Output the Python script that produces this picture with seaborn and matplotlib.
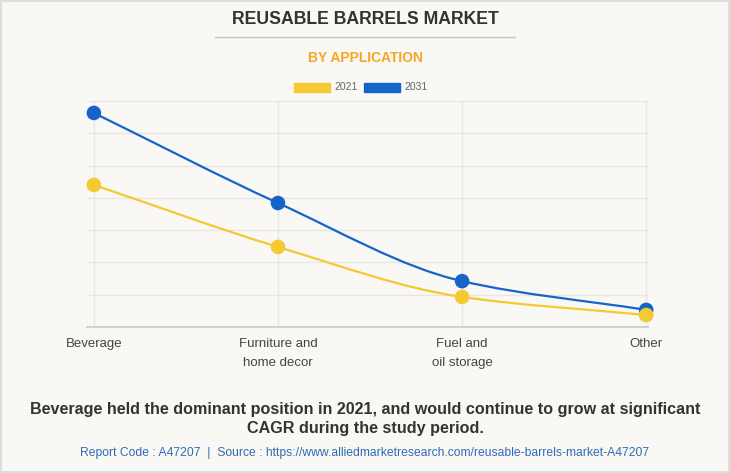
import numpy as np
import pandas as pd
import seaborn as sns
import matplotlib.pyplot as plt
from matplotlib.path import Path
from matplotlib.patches import PathPatch, Rectangle

# data (no y scale shown, units = gridline steps)
categories = ["Beverage", "Furniture and\nhome decor", "Fuel and\noil storage", "Other"]
values_2021 = [4.40, 2.48, 0.93, 0.37]
values_2031 = [6.63, 3.84, 1.42, 0.53]
years = ["2021", "2031"]
colors = {"2021": "#f5c932", "2031": "#1565c8"}

bg = "#f9f8f4"
sns.set_theme(style="white")
plt.rcParams["font.family"] = ["Liberation Sans", "DejaVu Sans"]

# 2031 rows first so the 2021 markers sit on top
df = pd.DataFrame({
    "pos": list(range(len(categories))) * 2,
    "value": values_2031 + values_2021,
    "year": [years[1]] * len(categories) + [years[0]] * len(categories),
})

fig = plt.figure(figsize=(7.3, 4.73), dpi=100, facecolor=bg)
fig.patch.set_edgecolor("#dddddd")
fig.patch.set_linewidth(1.5)
ax = fig.add_axes([0.119, 0.3087, 0.769, 0.4778], facecolor=bg)


def smooth_path(xs, ys):
    # monotone cubic (Fritsch-Carlson) drawn as bezier segments
    xs = np.asarray(xs, float)
    ys = np.asarray(ys, float)
    h = np.diff(xs)
    d = np.diff(ys) / h
    m = np.zeros_like(ys)
    m[0], m[-1] = d[0], d[-1]
    for i in range(1, len(ys) - 1):
        if d[i - 1] * d[i] > 0:
            m[i] = 2 / (1 / d[i - 1] + 1 / d[i])
    verts = [(xs[0], ys[0])]
    codes = [Path.MOVETO]
    for i in range(len(h)):
        verts += [(xs[i] + h[i] / 3, ys[i] + m[i] * h[i] / 3),
                  (xs[i + 1] - h[i] / 3, ys[i + 1] - m[i + 1] * h[i] / 3),
                  (xs[i + 1], ys[i + 1])]
        codes += [Path.CURVE4] * 3
    return Path(verts, codes)


for yr in ["2031", "2021"]:
    sub = df[df["year"] == yr]
    ax.add_patch(PathPatch(smooth_path(sub["pos"], sub["value"]), fill=False,
                           edgecolor=colors[yr], lw=1.6, zorder=3))

sns.scatterplot(data=df, x="pos", y="value", hue="year", palette=colors,
                s=110, edgecolor="none", legend=False, ax=ax, zorder=4,
                clip_on=False)

ax.set_xlim(-0.038, 3.011)
ax.set_ylim(0, 7)
ax.set_yticks(range(0, 8))
ax.set_yticklabels([])
ax.set_xticks(range(len(categories)))
ax.set_xticklabels(categories, fontsize=9.5, color="#444444", linespacing=1.75)
ax.set_xlabel("")
ax.set_ylabel("")
ax.tick_params(axis="x", length=0, pad=8)
ax.tick_params(axis="y", length=0)
ax.grid(True, color="#e6e6e6", lw=1)
for s in ["top", "left", "right"]:
    ax.spines[s].set_visible(False)
ax.spines["bottom"].set_color("#cccccc")

# header
fig.text(0.5, 1 - 20 / 473, "REUSABLE BARRELS MARKET", ha="center", va="center",
         fontsize=12.7, fontweight="bold", color="#333333")
fig.add_artist(plt.Line2D([215 / 730, 515 / 730], [1 - 37 / 473] * 2,
                          color="#c4c4c4", lw=1))
fig.text(0.5, 1 - 58 / 473, "BY APPLICATION", ha="center", va="center",
         fontsize=10, fontweight="bold", color="#f5a623")

# legend
for x0, yr in [(294, "2021"), (364, "2031")]:
    fig.add_artist(Rectangle((x0 / 730, 1 - 92 / 473), 36 / 730, 9 / 473,
                             transform=fig.transFigure, color=colors[yr]))
    fig.text((x0 + 40) / 730, 1 - 87 / 473, yr, ha="left", va="center",
             fontsize=7.5, color="#666666")

# footer
fig.text(0.5, 1 - 419 / 473,
         "Beverage held the dominant position in 2021, and would continue to grow at significant\nCAGR during the study period.",
         ha="center", va="center", fontsize=11.6, fontweight="bold", color="#333333",
         linespacing=1.3)
fig.text(0.5, 1 - 453 / 473,
         "Report Code : A47207  |  Source : https://www.alliedmarketresearch.com/reusable-barrels-market-A47207",
         ha="center", va="center", fontsize=8.7, color="#2e6db4")

fig.savefig("out.png", dpi=100, facecolor=bg, edgecolor=fig.patch.get_edgecolor())
